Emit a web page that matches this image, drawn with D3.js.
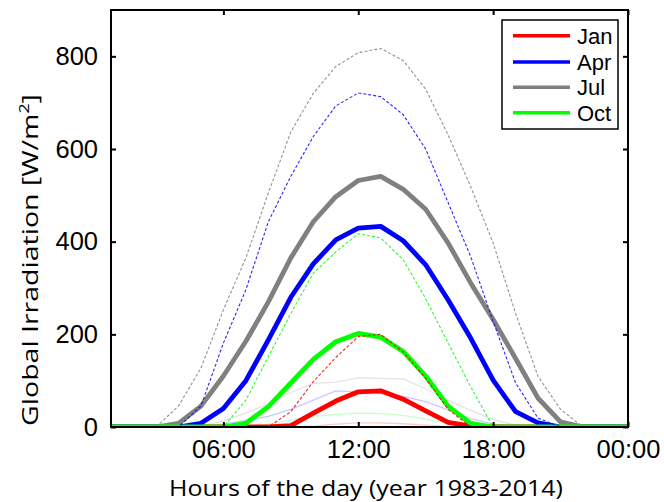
<!DOCTYPE html>
<html><head><meta charset="utf-8">
<script src="https://cdn.jsdelivr.net/npm/d3@7"></script>
<style>body{margin:0;background:#fff;} svg{display:block;}</style>
</head><body>
<svg id="chart" width="664" height="502"></svg>
<script>
// ---- data ----
const hours = [1,2,3,4,5,6,7,8,9,10,11,12,13,14,15,16,17,18,19,20,21,22,23,24];
const months = ["Jan","Apr","Jul","Oct"];
const colors = ["#ff0000","#0000ff","#808080","#00ff00"];
const janMean = [0,0,0,0,0,0,0,0,3,30,56,76,78,60,35,10,2,0,0,0,0,0,0,0];
const janMax  = [0,0,0,0,0,0,0,0,33,98,150,195,200,162,105,38,0,0,0,0,0,0,0,0];
const janMin  = [0,0,0,0,0,0,0,0,0,2,6,9,9,7,4,1,0,0,0,0,0,0,0,0];
const aprMean = [0,0,0,0,8,40,100,188,280,352,404,429,433,402,350,274,192,101,33,9,0,0,0,0];
const aprMax  = [0,0,0,0,45,181,296,443,541,627,693,721,713,674,600,484,368,228,95,19,0,0,0,0];
const aprMin  = [0,0,0,0,1,6,14,23,38,58,78,76,72,66,55,37,18,6,1,0,0,0,0,0];
const julMean = [0,0,0,8,45,110,185,270,365,443,497,532,541,513,470,397,311,232,148,62,11,0,0,0];
const julMax  = [0,0,0,45,127,253,365,505,637,720,778,808,817,791,729,630,519,397,245,109,38,0,0,0];
const julMin  = [0,0,0,0,2,13,30,50,75,94,97,106,105,104,82,58,36,16,4,0,0,0,0,0];
const octMean = [0,0,0,0,0,0,8,44,95,146,184,202,194,163,110,45,8,0,0,0,0,0,0,0];
const octMax  = [0,0,0,0,0,0,58,152,245,332,378,417,408,361,277,181,87,0,0,0,0,0,0,0];
const octMin  = [0,0,0,0,0,0,1,6,15,23,27,30,29,25,17,8,2,0,0,0,0,0,0,0];
const xTicks = [6,12,18,24];
const xTickLabels = ["06:00","12:00","18:00","00:00"];
const yTicks = [0,200,400,600,800];

const means = [janMean,aprMean,julMean,octMean];
const maxs  = [janMax,aprMax,julMax,octMax];
const mins  = [janMin,aprMin,julMin,octMin];

// ---- layout ----
const svg = d3.select("#chart");
const L = 111, R = 628, T = 10, B = 427;
const x = d3.scaleLinear().domain([1,24]).range([L,R]);
const y = d3.scaleLinear().domain([0,900]).range([B,T]);
const line = d3.line().x((d,i)=>x(hours[i])).y(d=>y(d));

const plot = svg.append("g");
plot.append("defs").append("clipPath").attr("id","clip")
  .append("rect").attr("x",L).attr("y",T).attr("width",R-L).attr("height",B-T);
const g = plot.append("g").attr("clip-path","url(#clip)");

// faint (min) lines
mins.forEach((s,k)=>{
  g.append("path").attr("d",line(s)).attr("fill","none")
   .attr("stroke",colors[k]).attr("stroke-opacity",0.22).attr("stroke-width",1.3);
});
// thick mean lines
means.forEach((s,k)=>{
  g.append("path").attr("d",line(s)).attr("fill","none")
   .attr("stroke",colors[k]).attr("stroke-width",4.8).attr("stroke-linejoin","round");
});
// dashed max lines
maxs.forEach((s,k)=>{
  g.append("path").attr("d",line(s)).attr("fill","none")
   .attr("stroke",colors[k]).attr("stroke-width",1.1).attr("stroke-dasharray","3,2")
   .attr("stroke-opacity",0.85);
});

// ---- axes (MATLAB-style box, inward ticks) ----
const tickFont = "'Liberation Sans', Arial, sans-serif";
const xb = d3.axisBottom(x).tickValues(xTicks).tickFormat((d,i)=>xTickLabels[i]).tickSizeInner(-5).tickSizeOuter(0).tickPadding(13);
const xt = d3.axisTop(x).tickValues(xTicks).tickFormat("").tickSizeInner(-5).tickSizeOuter(0);
const yl = d3.axisLeft(y).tickValues(yTicks).tickSizeInner(-5).tickSizeOuter(0).tickPadding(13);
const yr = d3.axisRight(y).tickValues(yTicks).tickFormat("").tickSizeInner(-5).tickSizeOuter(0);

function styleAxis(sel){
  sel.select(".domain").remove();
  sel.selectAll(".tick line").attr("stroke","#000").attr("stroke-width",2);
  sel.selectAll(".tick text").attr("font-family",tickFont).attr("font-size",25.5).attr("fill","#000");
}
svg.append("g").attr("transform",`translate(0,${B})`).call(xb).call(styleAxis);
svg.append("g").attr("transform",`translate(0,${T})`).call(xt).call(styleAxis);
svg.append("g").attr("transform",`translate(${L},0)`).call(yl).call(styleAxis);
svg.append("g").attr("transform",`translate(${R},0)`).call(yr).call(styleAxis);

svg.append("rect").attr("x",L).attr("y",T).attr("width",R-L).attr("height",B-T)
  .attr("fill","none").attr("stroke","#000").attr("stroke-width",2);

// ---- axis titles ----
const titleFont = "'Open Sans', 'Noto Sans', sans-serif";
const xt1 = svg.append("text").attr("font-family",titleFont).attr("font-size",22.5)
  .attr("text-anchor","middle").attr("x",0).attr("y",0)
  .text("Hours of the day (year 1983-2014)");
{
  const w = xt1.node().getComputedTextLength();
  const s = 394 / w;
  xt1.attr("transform",`translate(366,496) scale(${s},1)`);
}
const yt = svg.append("text").attr("font-family",titleFont).attr("font-size",22.5)
  .attr("text-anchor","middle").attr("x",0).attr("y",0);
yt.append("tspan").text("Global Irradiation [W/m");
yt.append("tspan").attr("font-size",14).attr("dy",-9).text("2");
yt.append("tspan").attr("dy",9).text("]");
{
  const w = yt.node().getComputedTextLength();
  const s = 332 / w;
  yt.attr("transform",`translate(38,260) rotate(-90) scale(${s},1)`);
}

// ---- legend ----
const lg = svg.append("g");
lg.append("rect").attr("x",502).attr("y",20).attr("width",116).attr("height",109)
  .attr("fill","#fff").attr("stroke","#000").attr("stroke-width",1.5);
const ly = [35.7,62,87.3,112.7];
months.forEach((m,k)=>{
  lg.append("line").attr("x1",513).attr("x2",570).attr("y1",ly[k]).attr("y2",ly[k])
    .attr("stroke",colors[k]).attr("stroke-width",3.5);
  lg.append("text").attr("x",577).attr("y",ly[k]+8).attr("font-family",tickFont)
    .attr("font-size",22).attr("fill","#000").text(m);
});
</script>
</body></html>
